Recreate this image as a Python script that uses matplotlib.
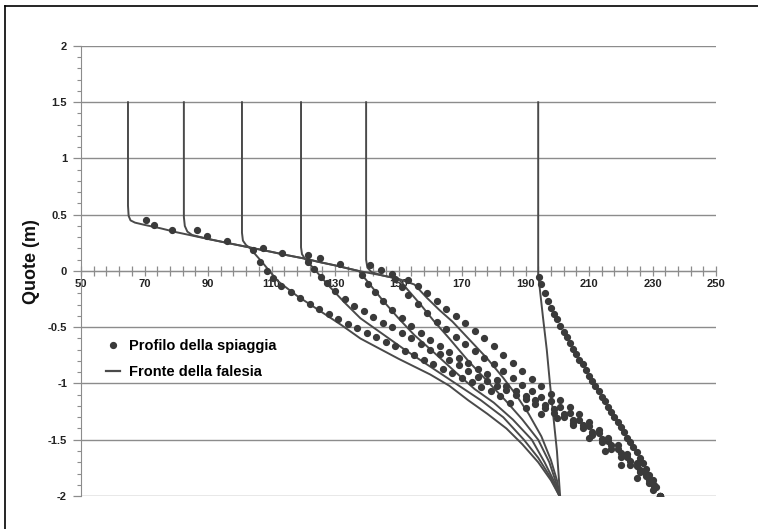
import numpy as np
import matplotlib
matplotlib.use("Agg")
import matplotlib.pyplot as plt
from matplotlib.ticker import FixedLocator, MultipleLocator
from matplotlib.lines import Line2D

# ---------------- data ----------------
x_ticks = [50, 70, 90, 110, 130, 150, 170, 190, 210, 230, 250]
y_ticks = [-2, -1.5, -1, -0.5, 0, 0.5, 1, 1.5, 2]
y_tick_labels = ["-2", "-1.5", "-1", "-0.5", "0", "0.5", "1", "1.5", "2"]

# Fronte della falesia (solid profiles)
s1_x = [64.8, 64.8, 65.0, 65.6, 67, 70, 75, 80, 85, 90, 96, 103, 107, 112, 118, 125, 132, 138,
        150, 160, 166, 172, 178, 184, 189, 194, 198, 200.7]
s1_y = [1.5, 0.58, 0.49, 0.45, 0.43, 0.41, 0.38, 0.345, 0.315, 0.285, 0.25, 0.21, 0.08, -0.09, -0.22,
        -0.35, -0.48, -0.6, -0.78, -0.92, -1.02, -1.15, -1.27, -1.4, -1.54, -1.7, -1.86, -2.0]
s2_x = [82.4, 82.4, 82.7, 83.5, 85, 90, 96, 103, 110, 115, 120.5, 124, 128, 133, 138, 145, 152,
        160, 168, 176, 183, 189.5, 194, 198, 200.7]
s2_y = [1.5, 0.48, 0.40, 0.35, 0.32, 0.285, 0.25, 0.21, 0.17, 0.14, 0.11, 0.0, -0.13, -0.28, -0.42,
        -0.56, -0.7, -0.85, -1.0, -1.15, -1.3, -1.5, -1.66, -1.84, -2.0]
s3_x = [100.7, 100.7, 101.0, 102, 103, 110, 115, 120.5, 125, 130, 137.5, 141, 145, 150, 155, 161,
        168, 174, 180, 186, 192, 196, 199, 200.7]
s3_y = [1.5, 0.34, 0.27, 0.23, 0.21, 0.17, 0.14, 0.11, 0.08, 0.05, 0.0, -0.12, -0.26, -0.42, -0.57,
        -0.72, -0.9, -1.05, -1.17, -1.32, -1.5, -1.7, -1.87, -2.0]
s4_x = [119.3, 119.3, 119.6, 120.5, 125, 130, 137.5, 145, 150, 153, 157, 161, 166, 172, 178, 184,
        189, 194, 197.5, 199.5, 200.7]
s4_y = [1.5, 0.21, 0.15, 0.11, 0.08, 0.05, 0.0, -0.04, -0.07, -0.17, -0.3, -0.44, -0.6, -0.8, -0.98,
        -1.16, -1.32, -1.5, -1.7, -1.87, -2.0]
s5_x = [139.8, 139.8, 140.2, 141.5, 145, 150, 155, 159, 163, 167, 172, 178, 183, 187, 191, 195,
        198, 200, 200.7]
s5_y = [1.5, 0.1, 0.03, -0.01, -0.04, -0.07, -0.12, -0.24, -0.35, -0.45, -0.6, -0.78, -0.95, -1.1,
        -1.27, -1.47, -1.68, -1.87, -2.0]
s6_x = [194.0, 194.0, 195.5, 196.7, 197.7, 198.8, 199.9, 200.9]
s6_y = [1.5, -0.03, -0.41, -0.7, -1.0, -1.3, -1.6, -2.0]

# Profilo della spiaggia (dots)
d1_x = [70.5, 73, 78.7, 104.2, 106.4, 108.5, 110.5, 113, 116, 119, 122, 125, 128, 131, 134, 137,
        140, 143, 146, 149, 152, 155, 158, 161, 164, 167, 170, 173, 176, 179, 182, 185, 190, 195,
        200, 205, 210, 215, 220, 225, 230, 232.4]
d1_y = [0.45, 0.41, 0.36, 0.19, 0.08, 0.0, -0.06, -0.13, -0.19, -0.24, -0.29, -0.34, -0.38, -0.43,
        -0.47, -0.51, -0.55, -0.59, -0.63, -0.67, -0.71, -0.75, -0.79, -0.83, -0.87, -0.91, -0.95,
        -0.99, -1.03, -1.07, -1.11, -1.17, -1.22, -1.27, -1.31, -1.37, -1.48, -1.6, -1.72, -1.84,
        -1.95, -2.0]
d2_x = [86.5, 89.7, 96, 121.5, 123.5, 125.5, 127.5, 130, 133, 136, 139, 142, 145, 148, 151, 154,
        157, 160, 163, 166, 169, 172, 175, 178, 181, 184, 187, 190, 193, 196, 199, 202, 205, 208,
        211, 214, 217, 220, 223, 226, 229, 232.4]
d2_y = [0.36, 0.31, 0.27, 0.08, 0.02, -0.05, -0.11, -0.18, -0.25, -0.31, -0.36, -0.41, -0.46, -0.5,
        -0.55, -0.6, -0.65, -0.7, -0.74, -0.79, -0.84, -0.89, -0.94, -0.98, -1.02, -1.06, -1.1,
        -1.14, -1.18, -1.22, -1.26, -1.3, -1.35, -1.4, -1.46, -1.52, -1.58, -1.65, -1.72, -1.79,
        -1.88, -2.0]
d3_x = [107.3, 113.3, 138.5, 140.5, 142.5, 145, 148, 151, 154, 157, 160, 163, 166, 169, 172, 175,
        178, 181, 184, 187, 190, 193, 196, 199, 202, 205, 208, 211, 214, 217, 220, 223, 226, 229,
        232.4]
d3_y = [0.2, 0.16, -0.04, -0.12, -0.19, -0.27, -0.35, -0.42, -0.49, -0.55, -0.61, -0.67, -0.72,
        -0.77, -0.82, -0.87, -0.92, -0.97, -1.02, -1.07, -1.11, -1.15, -1.19, -1.23, -1.27, -1.32,
        -1.37, -1.43, -1.49, -1.55, -1.62, -1.69, -1.77, -1.86, -2.0]
d4_x = [121.5, 125.3, 131.6, 149, 151, 153, 156, 159, 162, 165, 168, 171, 174, 177, 180, 183, 186,
        189, 192, 195, 198, 201, 204, 207, 210, 213, 216, 219, 222, 225, 228, 230.5, 232.4]
d4_y = [0.14, 0.115, 0.06, -0.07, -0.14, -0.21, -0.29, -0.37, -0.45, -0.52, -0.59, -0.65, -0.71,
        -0.77, -0.83, -0.89, -0.95, -1.01, -1.07, -1.12, -1.16, -1.21, -1.26, -1.32, -1.38, -1.44,
        -1.51, -1.58, -1.65, -1.73, -1.82, -1.91, -2.0]
d5_x = [141, 144.5, 148, 153, 156, 159, 162, 165, 168, 171, 174, 177, 180, 183, 186, 189, 192, 195,
        198, 201, 204, 207, 210, 213, 216, 219, 222, 225, 228, 230.5, 232.4]
d5_y = [0.05, 0.01, -0.03, -0.08, -0.13, -0.2, -0.27, -0.34, -0.4, -0.46, -0.53, -0.6, -0.67,
        -0.75, -0.82, -0.89, -0.96, -1.02, -1.09, -1.15, -1.21, -1.27, -1.34, -1.41, -1.48, -1.55,
        -1.63, -1.71, -1.8, -1.9, -2.0]
d6_x = [194.3, 195, 196, 197, 198, 199, 200, 201, 202, 203, 204, 205, 206, 207, 208, 209, 210, 211,
        212, 213, 214, 215, 216, 217, 218, 219, 220, 221, 222, 223, 224, 225, 226, 227, 228, 229,
        230, 231, 232.4]
d6_y = [-0.05, -0.12, -0.2, -0.27, -0.33, -0.38, -0.43, -0.49, -0.54, -0.59, -0.64, -0.69, -0.74,
        -0.79, -0.83, -0.88, -0.93, -0.98, -1.02, -1.07, -1.12, -1.16, -1.21, -1.25, -1.3, -1.34,
        -1.39, -1.43, -1.48, -1.52, -1.56, -1.61, -1.66, -1.71, -1.76, -1.81, -1.86, -1.92, -2.0]

solid_x = [s1_x, s2_x, s3_x, s4_x, s5_x, s6_x]
solid_y = [s1_y, s2_y, s3_y, s4_y, s5_y, s6_y]
dots_x = [d1_x, d2_x, d3_x, d4_x, d5_x, d6_x]
dots_y = [d1_y, d2_y, d3_y, d4_y, d5_y, d6_y]

# ---------------- style ----------------
plt.rcParams['font.family'] = ['Liberation Sans', 'DejaVu Sans']
line_col = '#4a4a4a'
dot_col = '#3a3a3a'
grid_col = '#8c8c8c'

fig = plt.figure(figsize=(7.58, 5.29), dpi=100)
ax = fig.add_axes([81 / 758, 1 - 496 / 529, (716 - 81) / 758, (496 - 46) / 529])

for xs, ys in zip(solid_x, solid_y):
    ax.plot(xs, ys, color=line_col, lw=1.4, solid_joinstyle='round', zorder=3)
for xs, ys in zip(dots_x, dots_y):
    ax.plot(xs, ys, linestyle='none', marker='o', ms=4.2, color=dot_col, mec=dot_col, zorder=4)

ax.set_xlim(50, 250)
ax.set_ylim(-2, 2)

# grid
ax.yaxis.set_major_locator(FixedLocator(y_ticks))
ax.set_yticklabels(y_tick_labels)
ax.yaxis.set_minor_locator(MultipleLocator(0.1))
ax.grid(axis='y', which='major', color=grid_col, lw=1.0)
ax.set_axisbelow(True)

ax.xaxis.set_major_locator(FixedLocator(x_ticks))
ax.xaxis.set_minor_locator(FixedLocator(np.arange(50, 251, 4)))

for s in ['top', 'right']:
    ax.spines[s].set_visible(False)
ax.spines['bottom'].set_position(('data', 0))
ax.spines['bottom'].set_color(grid_col)
ax.spines['left'].set_color(grid_col)

ax.tick_params(axis='x', which='both', direction='inout', length=7, color=grid_col, width=0.9,
               labelsize=8, pad=2)
ax.tick_params(axis='y', which='major', direction='out', length=6, color=grid_col, width=0.9,
               labelsize=8, pad=4)
ax.tick_params(axis='y', which='minor', direction='out', length=3, color=grid_col, width=0.8)
for lab in ax.get_xticklabels() + ax.get_yticklabels():
    lab.set_fontweight('bold')
    lab.set_color('#222222')

fig.text(31 / 758, 1 - 262 / 529, 'Quote (m)', rotation=90, ha='center', va='center',
         fontsize=13, fontweight='bold', color='#111111')

handles = [Line2D([], [], linestyle='none', marker='o', ms=4.2, color=dot_col),
           Line2D([], [], color=line_col, lw=1.6)]
leg = ax.legend(handles, ['Profilo della spiaggia', 'Fronte della falesia'],
                loc='upper left', bbox_to_anchor=((100 - 81) / 635, (496 - 333) / 450),
                frameon=False, prop={'weight': 'bold', 'size': 10.5},
                handlelength=1.0, handletextpad=0.6, labelspacing=0.85, borderaxespad=0)

# outer frame (left and top edges of the pasted figure)
fig.add_artist(Line2D([5 / 758, 5 / 758], [0, 1 - 6 / 529], color='black', lw=1.2,
                      transform=fig.transFigure))
fig.add_artist(Line2D([5 / 758, 1], [1 - 6 / 529, 1 - 6 / 529], color='black', lw=1.2,
                      transform=fig.transFigure))

fig.savefig('out.png', dpi=100)
